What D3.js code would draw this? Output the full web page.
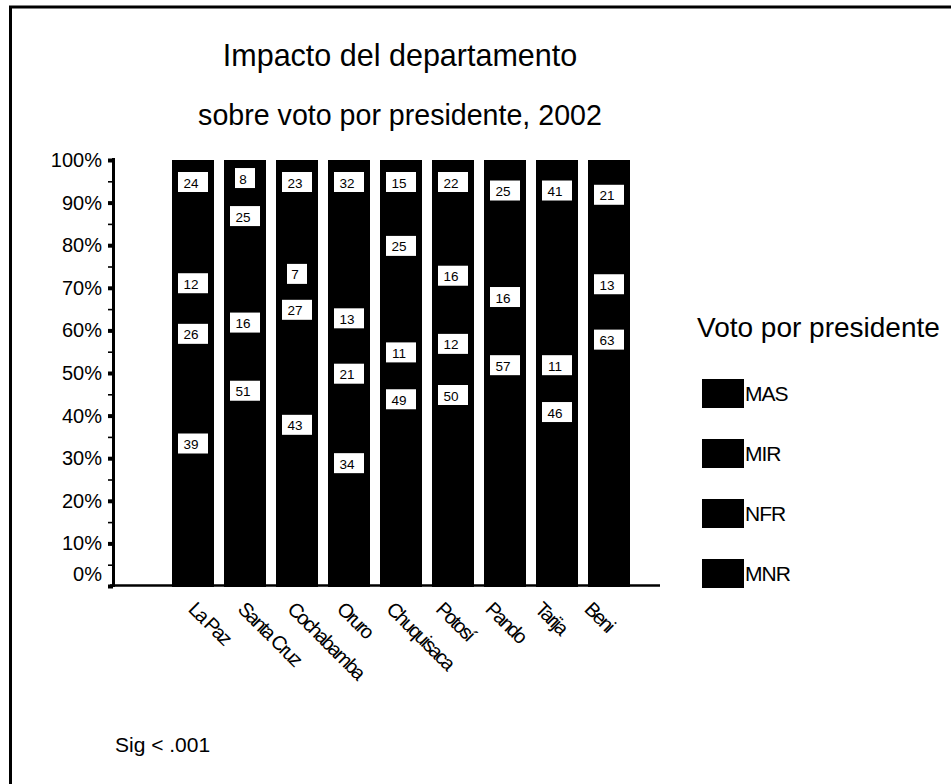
<!DOCTYPE html>
<html>
<head>
<meta charset="utf-8">
<script src="https://cdn.jsdelivr.net/npm/d3@7"></script>
<style>
  body { margin: 0; background: #fff; }
  text { font-family: "Liberation Sans", Arial, sans-serif; fill: #000; }
</style>
</head>
<body>
<svg id="chart" width="951" height="784"></svg>
<script>
// ---- data ----
const categories = ["La Paz", "Santa Cruz", "Cochabamba", "Oruro", "Chuquisaca", "Potosí", "Pando", "Tarija", "Beni"];
const seriesKeys = ["MNR", "NFR", "MIR", "MAS"];          // stacking order, bottom to top
const legendKeys = ["MAS", "MIR", "NFR", "MNR"];          // legend order, top to bottom
const MNR = [39, 51, 43, 34, 49, 50, 57, 46, 63];
const NFR = [26, 16, 27, 21, 11, 12, 16, 11, 13];
const MIR = [12, 25, 7, 13, 25, 16, 25, 41, 21];
const MAS = [24, 8, 23, 32, 15, 22, 2, 2, 3];
const yTicks = [0, 10, 20, 30, 40, 50, 60, 70, 80, 90, 100];
const yMinorTicks = [5, 15, 25, 35, 45, 55, 65, 75, 85, 95];
const titleText = "Impacto del departamento";
const subtitleText = "sobre voto por presidente, 2002";
const legendTitle = "Voto por presidente";
const noteText = "Sig < .001";

const seriesValues = { MNR, NFR, MIR, MAS };
const table = categories.map((c, i) => {
  const row = { cat: c };
  seriesKeys.forEach(k => row[k] = seriesValues[k][i]);
  return row;
});

// ---- layout ----
const svg = d3.select("#chart");
const plotLeft = 113, plotRight = 660, plotTop = 160, plotBottom = 586;

const x = d3.scaleBand().domain(categories).range([172, 630]).paddingInner(10 / 52).paddingOuter(0);
// category labels are spaced slightly tighter than the bars in the reference
const xLabel = d3.scalePoint().domain(categories).range([197, 593]);
const y = d3.scaleLinear().domain([0, 100]).range([plotBottom, plotTop]);

// frame (only the top and left edges fall inside the picture)
svg.append("rect").attr("x", 10.5).attr("y", 7).attr("width", 1000).attr("height", 1000)
  .attr("fill", "none").attr("stroke", "#000").attr("stroke-width", 3);

// titles
svg.append("text").attr("x", 400).attr("y", 65.5).attr("text-anchor", "middle")
  .style("font-size", "30.5px").text(titleText);
svg.append("text").attr("x", 400).attr("y", 125).attr("text-anchor", "middle")
  .style("font-size", "28.6px").text(subtitleText);

// stacked bars
const stack = d3.stack().keys(seriesKeys).offset(d3.stackOffsetExpand);
const layers = stack(table);

const gBars = svg.append("g").attr("shape-rendering", "crispEdges");
layers.forEach(layer => {
  gBars.selectAll(null).data(layer).enter().append("rect")
    .attr("x", d => x(d.data.cat))
    .attr("width", x.bandwidth())
    .attr("y", d => y(d[1] * 100))
    .attr("height", d => y(d[0] * 100) - y(d[1] * 100) + 1)
    .attr("fill", "#000");
});

// value labels
const gLab = svg.append("g");
layers.forEach(layer => {
  const key = layer.key;
  layer.forEach(d => {
    const v = d.data[key];
    if (v < 5) return;
    const top = y(d[1] * 100), bot = y(d[0] * 100);
    const h = bot - top;
    const cy = top + Math.min(22, h / 2 + 1);
    const cx = x(d.data.cat) + x.bandwidth() / 2;
    const w = String(v).length > 1 ? 30 : 20;
    gLab.append("rect").attr("x", cx - w / 2).attr("y", cy - 10).attr("width", w).attr("height", 20)
      .attr("fill", "#fff");
    gLab.append("text").attr("x", cx - 2).attr("y", cy + 5.5).attr("text-anchor", "middle")
      .style("font-size", "13.5px").text(v);
  });
});

// y axis: major ticks
const yAxis = d3.axisLeft(y).tickValues(yTicks).tickFormat(d => d + "%").tickSize(5).tickPadding(6);
const gy = svg.append("g").attr("transform", `translate(${plotLeft},0)`).call(yAxis);
gy.select(".domain").remove();
gy.selectAll(".tick line").attr("stroke", "#000").attr("stroke-width", 4);
gy.selectAll(".tick text").style("font-size", "20px").attr("fill", "#000")
  .attr("font-family", null);
gy.selectAll(".tick").filter(d => d === 0).select("text").attr("dy", "-0.3em");

// y axis: minor ticks
const yMinor = d3.axisLeft(y).tickValues(yMinorTicks).tickFormat("").tickSize(5);
const gym = svg.append("g").attr("transform", `translate(${plotLeft},0)`).call(yMinor);
gym.select(".domain").remove();
gym.selectAll(".tick line").attr("stroke", "#000").attr("stroke-width", 1.6);

// axis lines
svg.append("line").attr("x1", plotLeft + 0.5).attr("x2", plotLeft + 0.5)
  .attr("y1", plotTop - 2).attr("y2", plotBottom + 1)
  .attr("stroke", "#000").attr("stroke-width", 3);
svg.append("line").attr("x1", plotLeft - 3).attr("x2", plotRight)
  .attr("y1", plotBottom - 0.5).attr("y2", plotBottom - 0.5)
  .attr("stroke", "#000").attr("stroke-width", 2.5);

// x axis category labels (rotated)
const xAxis = d3.axisBottom(xLabel).tickSize(0).tickPadding(0);
const gx = svg.append("g").attr("transform", `translate(0,${plotBottom + 14})`).call(xAxis);
gx.select(".domain").remove();
gx.selectAll(".tick text")
  .attr("font-family", null)
  .style("font-size", "20px")
  .style("letter-spacing", "-2px")
  .attr("fill", "#000")
  .attr("text-anchor", "start")
  .attr("x", 0).attr("y", 0).attr("dy", "0.72em")
  .attr("transform", "rotate(45)");

// legend
svg.append("text").attr("x", 697).attr("y", 337).style("font-size", "28px").text(legendTitle);
const legY = d3.scalePoint().domain(legendKeys).range([379, 559]);
const gLeg = svg.append("g");
legendKeys.forEach(k => {
  gLeg.append("rect").attr("x", 702).attr("y", legY(k)).attr("width", 42).attr("height", 29)
    .attr("fill", "#000");
  gLeg.append("text").attr("x", 745).attr("y", legY(k) + 22)
    .style("font-size", "21px").style("letter-spacing", "-1px").text(k);
});

// footnote
svg.append("text").attr("x", 115).attr("y", 752).style("font-size", "21px").text(noteText);
</script>
</body>
</html>
